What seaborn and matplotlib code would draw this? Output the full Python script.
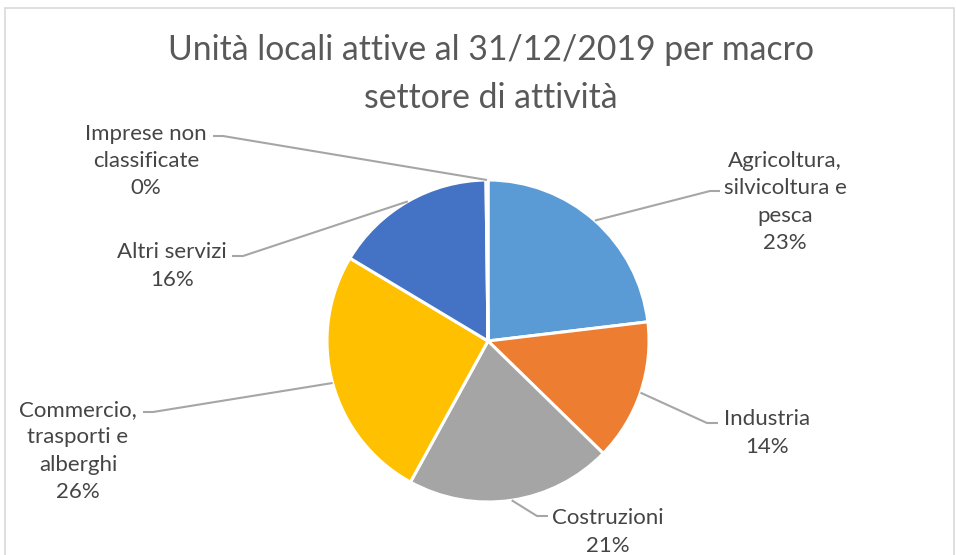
import matplotlib
matplotlib.use("Agg")
import matplotlib.pyplot as plt
from matplotlib.patches import Rectangle
import numpy as np
import seaborn as sns

# ---- data ----
categories = [
    "Agricoltura,\nsilvicoltura e\npesca",
    "Industria",
    "Costruzioni",
    "Commercio,\ntrasporti e\nalberghi",
    "Altri servizi",
    "Imprese non\nclassificate",
]
values = [23.1, 14.2, 20.7, 25.6, 16.2, 0.2]
colors = ["#5B9BD5", "#ED7D31", "#A5A5A5", "#FFC000", "#4472C4", "#264478"]
title = "Unità locali attive al 31/12/2019 per macro\nsettore di attività"

sns.set_theme(style="white")
plt.rcParams["font.family"] = ["Lato", "DejaVu Sans"]

W, H = 956, 555
fig = plt.figure(figsize=(W / 100, H / 100), dpi=100)
ax = fig.add_axes([0, 0, 1, 1])
ax.set_xlim(0, W)
ax.set_ylim(0, H)
ax.set_aspect("equal")
ax.axis("off")

def Y(py):
    return H - py

# chart border
fig.patches.append(Rectangle((5 / W, -0.05), 949 / W, 1.05 - 8 / H, transform=fig.transFigure,
                             fill=False, edgecolor="#D9D9D9", linewidth=1.2))

cx, cy, R = 488, Y(341), 161
wedges, _ = ax.pie(values, colors=colors, startangle=90, counterclock=False,
                   center=(cx, cy), radius=R, frame=True,
                   wedgeprops=dict(edgecolor="white", linewidth=2.2))
ax.set_xlim(0, W)
ax.set_ylim(0, H)
ax.axis("off")

text_color = "#454545"
title_color = "#595959"
line_color = "#A6A6A6"
fs = 16

# label layout: (text block center x/y in px, elbow point, end point of horizontal segment)
layout = [
    dict(tx=785, ty=202, elbow=(710, 191), end=(720, 191)),
    dict(tx=767, ty=433, elbow=(707, 423), end=(718, 423)),
    dict(tx=608, ty=532, elbow=(537, 516), end=(548, 516)),
    dict(tx=78, ty=451, elbow=(153, 412), end=(143, 412)),
    dict(tx=172, ty=266, elbow=(243, 256), end=(232, 256)),
    dict(tx=146, ty=161, elbow=(223, 136), end=(213, 136)),
]

total = sum(values)
for w, cat, v, lay in zip(wedges, categories, values, layout):
    mid = np.deg2rad((w.theta1 + w.theta2) / 2)
    sx, sy = cx + R * np.cos(mid), cy + R * np.sin(mid)
    ex, ey = lay["elbow"]
    hx, hy = lay["end"]
    ax.plot([sx, ex, hx], [sy, Y(ey), Y(hy)], color=line_color, linewidth=1.5,
            solid_capstyle="butt", zorder=1)
    pct = f"{round(v / total * 100):.0f}%"
    ax.text(lay["tx"], Y(lay["ty"]), f"{cat}\n{pct}", ha="center", va="center",
            fontsize=fs, color=text_color, linespacing=1.45)

ax.text(W / 2 + 13, Y(74), title, ha="center", va="center", fontsize=24.3,
        color=title_color, linespacing=1.6)

fig.savefig("out.png", dpi=100, facecolor="white")
